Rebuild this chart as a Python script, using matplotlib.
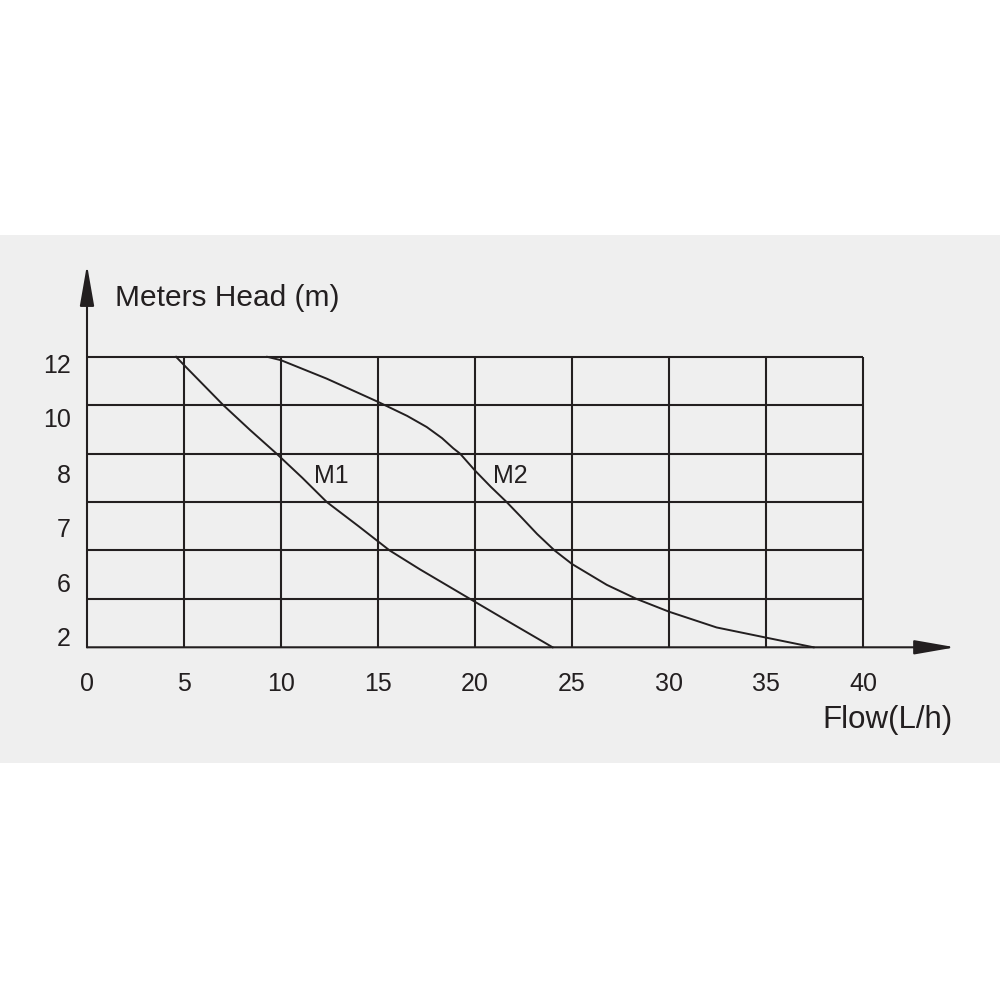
import matplotlib
matplotlib.use("Agg")
import matplotlib.pyplot as plt
from matplotlib.patches import Rectangle

plt.rcParams['font.family'] = ['Liberation Sans', 'DejaVu Sans']

# ---- data ----
flow_ticks = [0, 5, 10, 15, 20, 25, 30, 35, 40]
head_labels = ['12', '10', '8', '7', '6', '2']          # top to bottom
head_label_pos = [5.87, 4.74, 3.60, 2.47, 1.34, 0.22]   # grid-row units
grid_rows = [0, 1, 2, 3, 4, 5, 6]

m1_flow = [4.59, 5.0, 7.03, 8.4, 9.77, 11.1, 12.36, 14.0, 15.6, 17.16, 19.74, 22.03, 24.0]
m1_head = [6.0, 5.83, 5.0, 4.49, 4.0, 3.5, 3.0, 2.5, 2.0, 1.61, 1.0, 0.46, 0.0]

m2_flow = [9.29, 10.0, 12.35, 15.0, 15.36, 16.5, 17.51, 18.3, 18.88, 19.23, 20.0, 20.8, 21.63,
           22.4, 23.2, 24.1, 25.0, 26.79, 28.32, 30.0, 32.45, 35.0, 37.45]
m2_head = [6.0, 5.93, 5.55, 5.07, 5.0, 4.78, 4.55, 4.32, 4.11, 4.0, 3.65, 3.32, 3.0,
           2.68, 2.34, 2.0, 1.72, 1.29, 1.0, 0.735, 0.41, 0.2, 0.0]

ink = '#231f20'
bg = '#efefef'

fig = plt.figure(figsize=(10, 10), dpi=100)
fig.patch.set_facecolor('white')

bgax = fig.add_axes([0, 1 - 0.763, 1, 0.763 - 0.235], zorder=-10)
bgax.set_axis_off()
bgax.add_patch(Rectangle((0, 0), 1, 1, transform=bgax.transAxes,
                         facecolor=bg, edgecolor='none'))

ax = fig.add_axes([0.087, 1 - 0.6473, 0.876, 0.6473 - 0.260], zorder=1)
ax.set_facecolor('none')
ax.set_xlim(0, 45.15)
ax.set_ylim(0, 8.0)
for s in ax.spines.values():
    s.set_visible(False)

xmax = flow_ticks[-1]
ymax = grid_rows[-1]
# grid
for r in grid_rows[1:]:
    ax.plot([0, xmax], [r, r], color=ink, lw=1.5, solid_capstyle='butt', clip_on=False)
for f in flow_ticks[1:]:
    ax.plot([f, f], [0, ymax], color=ink, lw=1.5, solid_capstyle='butt', clip_on=False)

# axes with arrows
arrow_style = '-|>,head_length=1.26,head_width=0.22'
ax.annotate('', xy=(44.75, 0), xytext=(0, 0),
            arrowprops=dict(arrowstyle=arrow_style, mutation_scale=20, color=ink,
                            lw=1.5, shrinkA=0, shrinkB=0), annotation_clip=False)
ax.annotate('', xy=(0, 7.9), xytext=(0, 0),
            arrowprops=dict(arrowstyle=arrow_style, mutation_scale=20, color=ink,
                            lw=1.5, shrinkA=0, shrinkB=0), annotation_clip=False)

# curves
ax.plot(m1_flow, m1_head, color=ink, lw=1.4, clip_on=False,
        solid_joinstyle='round', antialiased=True)
ax.plot(m2_flow, m2_head, color=ink, lw=1.4, clip_on=False,
        solid_joinstyle='round', antialiased=True)
ax.text(12.6, 3.53, 'M1', fontsize=18, color=ink, ha='center', va='center')
ax.text(21.8, 3.53, 'M2', fontsize=18, color=ink, ha='center', va='center')

# ticks
ax.set_xticks(flow_ticks)
ax.set_xticklabels([str(t) for t in flow_ticks], fontsize=18, color=ink)
ax.set_yticks(head_label_pos)
ax.set_yticklabels(head_labels, fontsize=18, color=ink)
ax.tick_params(axis='x', length=0, pad=18)
ax.tick_params(axis='y', length=0, pad=11.5)

ax.text(1.44, 7.22, 'Meters Head (m)', fontsize=21.5, color=ink, ha='left', va='center')
ax.text(44.6, -1.5, 'Flow(L/h)', fontsize=22.5, color=ink, ha='right', va='center')

fig.savefig('out.png', dpi=100)
